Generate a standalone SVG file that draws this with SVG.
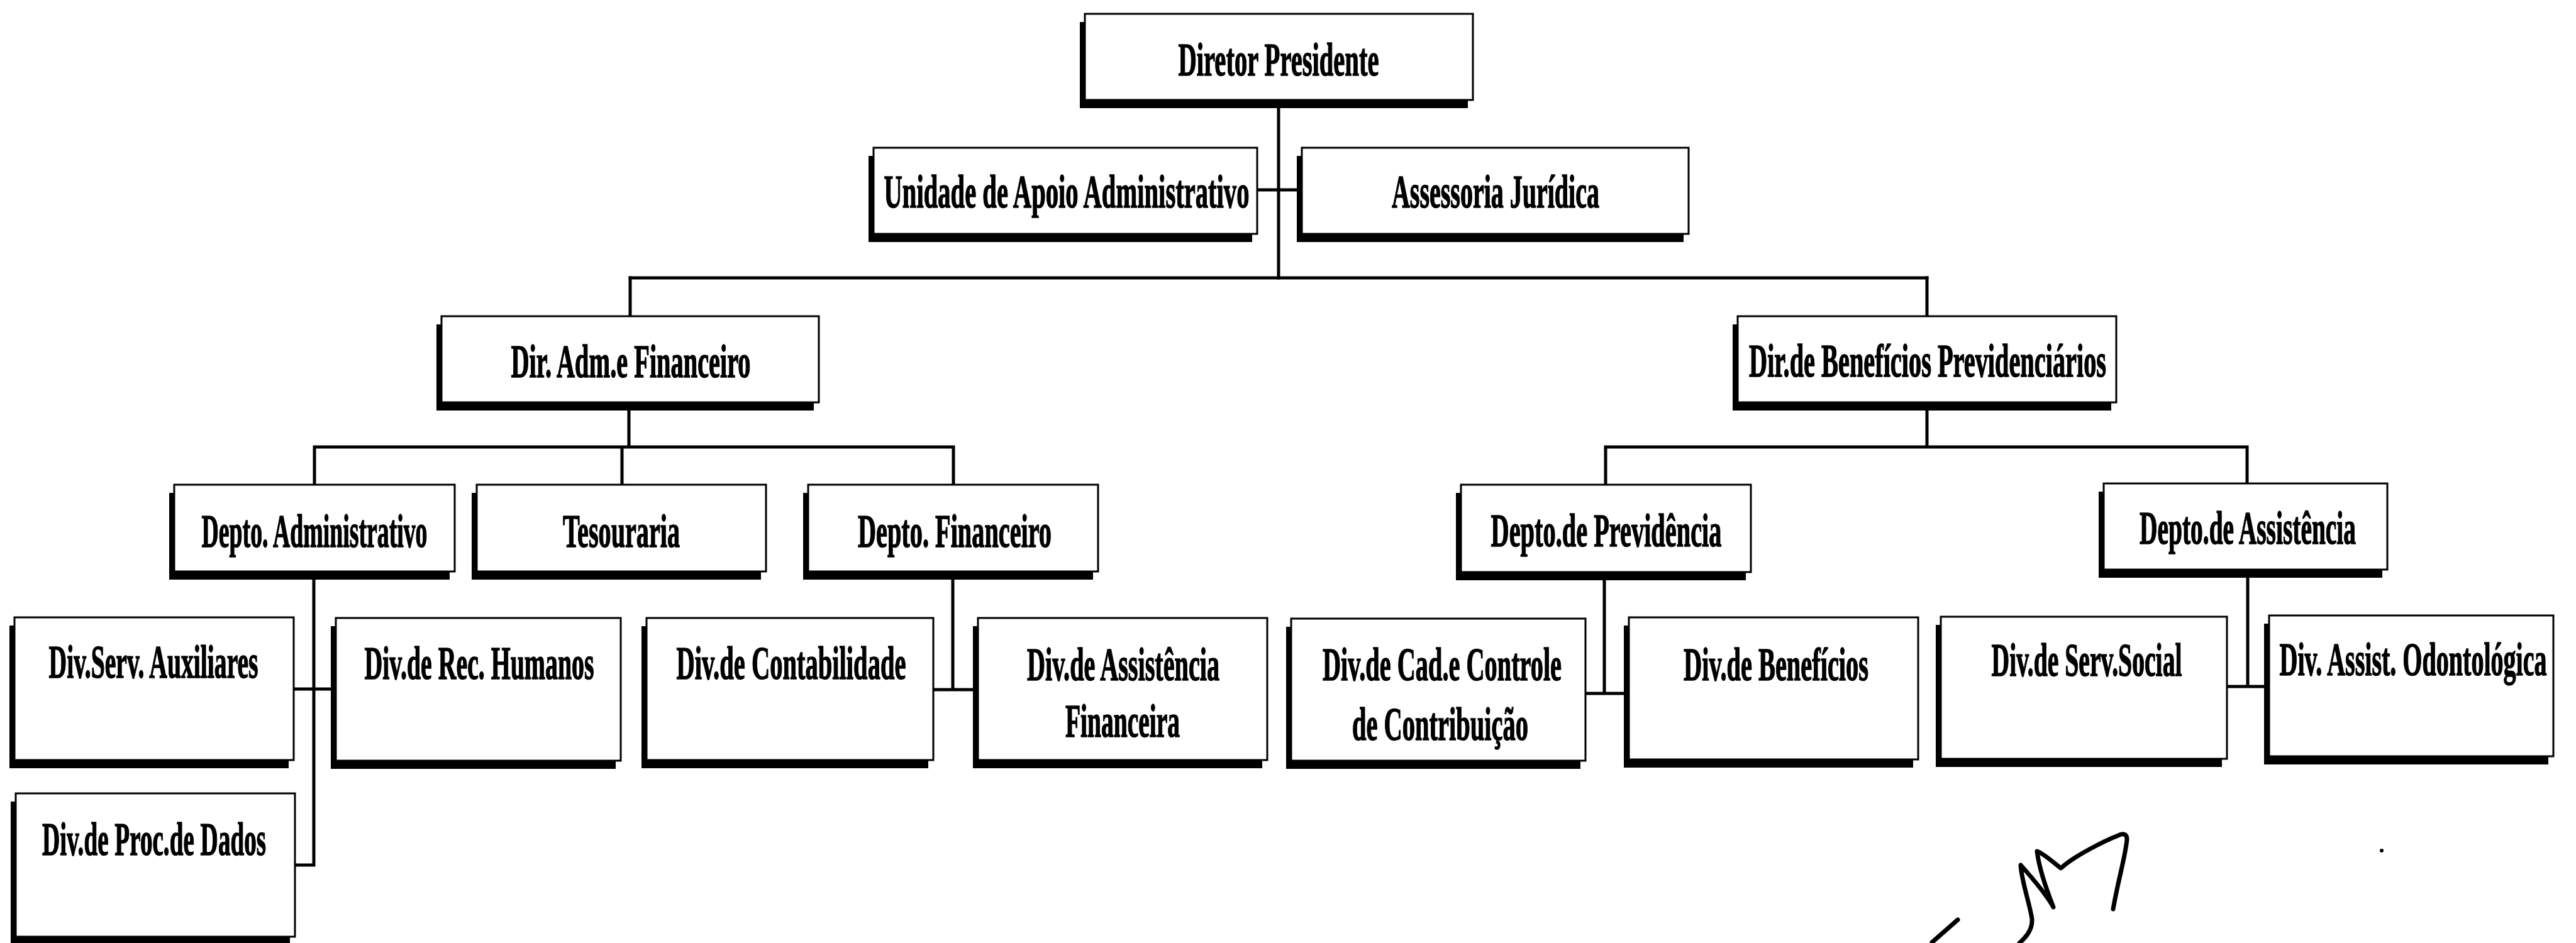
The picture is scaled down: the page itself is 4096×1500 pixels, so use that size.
<svg xmlns="http://www.w3.org/2000/svg" width="4096" height="1500" viewBox="0 0 4096 1500">
<style>
.sh{fill:#000}
.bx{fill:#fff;stroke:#000;stroke-width:3}
.t{font-family:"Liberation Serif","Times New Roman",serif;font-weight:bold;font-size:74px;fill:#000;stroke:#000;stroke-width:1.5}
.c{fill:none;stroke:#000;stroke-width:5;stroke-linecap:square}
.sig{fill:none;stroke:#000;stroke-width:7;stroke-linecap:round;stroke-linejoin:round}
</style>
<rect width="4096" height="1500" fill="#fff"/>
<g id="connectors">
<path class="c" d="M2033 165V442"/>
<path class="c" d="M1999 302H2070"/>
<path class="c" d="M1002 442H3064"/>
<path class="c" d="M1002 442V503M3064 442V503"/>
<path class="c" d="M1000 650V711M500 711H1516M500 711V771M989 711V771M1516 711V771"/>
<path class="c" d="M3064 650V711M2553 711H3573M2553 711V771M3573 711V769"/>
<path class="c" d="M499 920V1376M467 1096H534M469 1376H499"/>
<path class="c" d="M1515 920V1097M1484 1097H1555"/>
<path class="c" d="M2551 923V1103M2521 1103H2590"/>
<path class="c" d="M3574 918V1092M3541 1092H3608"/>
</g>
<g id="n-diretor"><rect class="sh" x="1717" y="35" width="617" height="137"/><rect class="bx" x="1725" y="22" width="617" height="137"/><text class="t" transform="translate(2033 120) scale(0.54 1)" x="-295.4" y="0" textLength="590.7" lengthAdjust="spacingAndGlyphs">Diretor Presidente</text></g>
<g id="n-unidade"><rect class="sh" x="1381" y="248" width="610" height="137"/><rect class="bx" x="1389" y="235" width="610" height="137"/><text class="t" transform="translate(1696 330) scale(0.54 1)" x="-538" y="0" textLength="1075.9" lengthAdjust="spacingAndGlyphs">Unidade de Apoio Administrativo</text></g>
<g id="n-assessoria"><rect class="sh" x="2062" y="248" width="615" height="137"/><rect class="bx" x="2070" y="235" width="615" height="137"/><text class="t" transform="translate(2378 330) scale(0.54 1)" x="-305.6" y="0" textLength="611.1" lengthAdjust="spacingAndGlyphs">Assessoria Jurídica</text></g>
<g id="n-diradm"><rect class="sh" x="694" y="516" width="600" height="137"/><rect class="bx" x="702" y="503" width="600" height="137"/><text class="t" transform="translate(1003 600) scale(0.54 1)" x="-352.8" y="0" textLength="705.6" lengthAdjust="spacingAndGlyphs">Dir. Adm.e Financeiro</text></g>
<g id="n-dirbenef"><rect class="sh" x="2755" y="516" width="602" height="137"/><rect class="bx" x="2763" y="503" width="602" height="137"/><text class="t" transform="translate(3065 599) scale(0.54 1)" x="-525.9" y="0" textLength="1051.9" lengthAdjust="spacingAndGlyphs">Dir.de Benefícios Previdenciários</text></g>
<g id="n-deptoadm"><rect class="sh" x="269" y="784" width="446" height="138"/><rect class="bx" x="277" y="771" width="446" height="138"/><text class="t" transform="translate(500 870) scale(0.54 1)" x="-332.4" y="0" textLength="664.8" lengthAdjust="spacingAndGlyphs">Depto. Administrativo</text></g>
<g id="n-tesouraria"><rect class="sh" x="750" y="784" width="460" height="138"/><rect class="bx" x="758" y="771" width="460" height="138"/><text class="t" transform="translate(988 870) scale(0.54 1)" x="-172.2" y="0" textLength="344.4" lengthAdjust="spacingAndGlyphs">Tesouraria</text></g>
<g id="n-deptofin"><rect class="sh" x="1277" y="784" width="461" height="138"/><rect class="bx" x="1285" y="771" width="461" height="138"/><text class="t" transform="translate(1518 870) scale(0.54 1)" x="-285.2" y="0" textLength="570.4" lengthAdjust="spacingAndGlyphs">Depto. Financeiro</text></g>
<g id="n-deptoprev"><rect class="sh" x="2315" y="784" width="461" height="139"/><rect class="bx" x="2323" y="771" width="461" height="139"/><text class="t" transform="translate(2554 869) scale(0.54 1)" x="-339.8" y="0" textLength="679.6" lengthAdjust="spacingAndGlyphs">Depto.de Previdência</text></g>
<g id="n-deptoassist"><rect class="sh" x="3337" y="782" width="451" height="137"/><rect class="bx" x="3345" y="769" width="451" height="137"/><text class="t" transform="translate(3574 865) scale(0.54 1)" x="-318.5" y="0" textLength="637" lengthAdjust="spacingAndGlyphs">Depto.de Assistência</text></g>
<g id="n-servaux"><rect class="sh" x="15" y="995" width="444" height="227"/><rect class="bx" x="23" y="982" width="444" height="227"/><text class="t" transform="translate(244 1078) scale(0.54 1)" x="-308.3" y="0" textLength="616.7" lengthAdjust="spacingAndGlyphs">Div.Serv. Auxiliares</text></g>
<g id="n-rechum"><rect class="sh" x="526" y="996" width="453" height="227"/><rect class="bx" x="534" y="983" width="453" height="227"/><text class="t" transform="translate(762 1080) scale(0.54 1)" x="-338" y="0" textLength="675.9" lengthAdjust="spacingAndGlyphs">Div.de Rec. Humanos</text></g>
<g id="n-procdados"><rect class="sh" x="17" y="1275" width="444" height="228"/><rect class="bx" x="25" y="1262" width="444" height="228"/><text class="t" transform="translate(245 1360) scale(0.54 1)" x="-329.6" y="0" textLength="659.3" lengthAdjust="spacingAndGlyphs">Div.de Proc.de Dados</text></g>
<g id="n-contab"><rect class="sh" x="1020" y="996" width="456" height="226"/><rect class="bx" x="1028" y="983" width="456" height="226"/><text class="t" transform="translate(1258 1080) scale(0.54 1)" x="-338" y="0" textLength="675.9" lengthAdjust="spacingAndGlyphs">Div.de Contabilidade</text></g>
<g id="n-assistfin"><rect class="sh" x="1547" y="996" width="460" height="226"/><rect class="bx" x="1555" y="983" width="460" height="226"/><text class="t" transform="translate(1786 1082) scale(0.54 1)" x="-283.3" y="0" textLength="566.7" lengthAdjust="spacingAndGlyphs">Div.de Assistência</text><text class="t" transform="translate(1785 1172) scale(0.54 1)" x="-168.5" y="0" textLength="337" lengthAdjust="spacingAndGlyphs">Financeira</text></g>
<g id="n-cadcontrole"><rect class="sh" x="2045" y="997" width="468" height="226"/><rect class="bx" x="2053" y="984" width="468" height="226"/><text class="t" transform="translate(2293 1082) scale(0.54 1)" x="-351.9" y="0" textLength="703.7" lengthAdjust="spacingAndGlyphs">Div.de Cad.e Controle</text><text class="t" transform="translate(2290 1177) scale(0.54 1)" x="-259.3" y="0" textLength="518.5" lengthAdjust="spacingAndGlyphs">de Contribuição</text></g>
<g id="n-beneficios"><rect class="sh" x="2582" y="995" width="460" height="226"/><rect class="bx" x="2590" y="982" width="460" height="226"/><text class="t" transform="translate(2824 1082) scale(0.54 1)" x="-272.2" y="0" textLength="544.4" lengthAdjust="spacingAndGlyphs">Div.de Benefícios</text></g>
<g id="n-servsocial"><rect class="sh" x="3078" y="994" width="455" height="226"/><rect class="bx" x="3086" y="981" width="455" height="226"/><text class="t" transform="translate(3318 1075) scale(0.54 1)" x="-280.6" y="0" textLength="561.1" lengthAdjust="spacingAndGlyphs">Div.de Serv.Social</text></g>
<g id="n-odonto"><rect class="sh" x="3600" y="992" width="452" height="224"/><rect class="bx" x="3608" y="979" width="452" height="224"/><text class="t" transform="translate(3837 1074) scale(0.54 1)" x="-393.5" y="0" textLength="787" lengthAdjust="spacingAndGlyphs">Div. Assist. Odontológica</text></g>
<g id="signature">
<path class="sig" d="M3360 1446C3368 1400 3380 1360 3382 1335C3382 1326 3375 1325 3368 1329C3350 1336 3300 1360 3277 1381C3265 1372 3250 1358 3239 1354C3242 1380 3252 1410 3265 1443C3255 1425 3230 1395 3213 1376C3214 1400 3228 1440 3231 1462C3232 1480 3220 1492 3211 1500"/>
<path class="sig" d="M3113 1463L3072 1499"/>
<circle cx="3787" cy="1353" r="3" fill="#000"/>
</g>
</svg>
